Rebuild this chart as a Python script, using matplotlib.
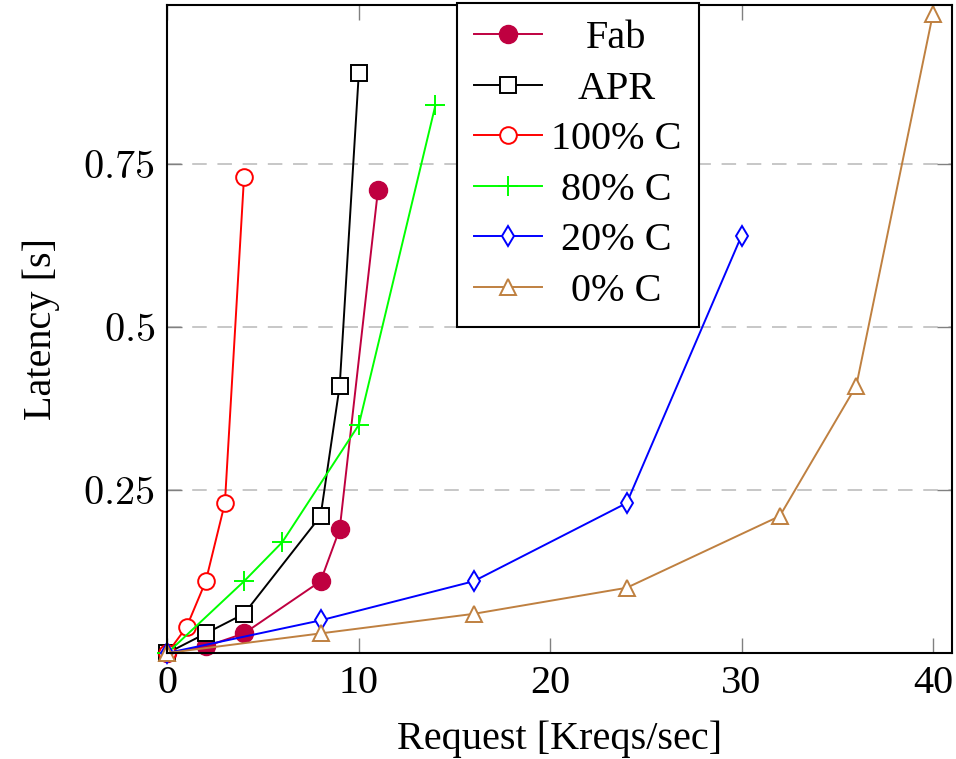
import matplotlib
matplotlib.use('Agg')
import matplotlib.pyplot as plt
import matplotlib.transforms as mtransforms

plt.rcParams['font.family'] = ['Liberation Serif', 'DejaVu Serif']
plt.rcParams['mathtext.fontset'] = 'cm'
plt.rcParams['font.size'] = 29

# data
series_names = ['Fab', 'APR', '100% C', '80% C', '20% C', '0% C']
fab_x = [0, 2, 4, 8, 9, 11]
fab_y = [0, 0.01, 0.03, 0.11, 0.19, 0.71]
apr_x = [0, 2, 4, 8, 9, 10]
apr_y = [0, 0.03, 0.06, 0.21, 0.41, 0.89]
c100_x = [0, 1, 2, 3, 4]
c100_y = [0, 0.04, 0.11, 0.23, 0.73]
c80_x = [0, 4, 6, 10, 14]
c80_y = [0, 0.11, 0.17, 0.35, 0.84]
c20_x = [0, 8, 16, 24, 30]
c20_y = [0, 0.05, 0.11, 0.23, 0.64]
c0_x = [0, 8, 16, 24, 32, 36, 40]
c0_y = [0, 0.03, 0.06, 0.10, 0.21, 0.41, 0.98]
x_ticks = [0, 10, 20, 30, 40]
y_ticks = [0.25, 0.5, 0.75]
y_tick_labels = ['0.25', '0.5', '0.75']

fig = plt.figure(figsize=(9.56, 7.59), dpi=100)
ax = fig.add_axes([0.1752, 0.1397, 0.8206, 0.8537])

lw = 1.4
mew = 1.4
ax.plot(fab_x, fab_y, color='#bf0040', marker='o', ms=13, mfc='#bf0040',
        mec='#bf0040', lw=lw, clip_on=False, label=series_names[0])
ax.plot(apr_x, apr_y, color='black', marker='s', ms=12, mfc='white',
        mec='black', mew=mew, lw=lw, clip_on=False, label=series_names[1])
ax.plot(c100_x, c100_y, color='#ff0000', marker='o', ms=12, mfc='white',
        mec='#ff0000', mew=mew, lw=lw, clip_on=False, label=series_names[2])
ax.plot(c80_x, c80_y, color='#00ff00', marker='+', ms=15, mew=mew,
        lw=lw, clip_on=False, label=series_names[3])
ax.plot(c20_x, c20_y, color='#0000ff', marker='d', ms=10, mfc='white',
        mec='#0000ff', mew=mew, lw=lw, clip_on=False, label=series_names[4])
ax.plot(c0_x, c0_y, color='#bf8040', marker='^', ms=11, mfc='white',
        mec='#bf8040', mew=mew, lw=lw, clip_on=False, label=series_names[5])

ax.set_xlim(0, 41)
ax.set_ylim(0, 0.994)
ax.set_xticks(x_ticks)
ax.set_yticks(y_ticks)
ax.set_yticklabels(['$' + s + '$' for s in y_tick_labels])
ax.tick_params(direction='in', length=11, width=1, color='#808080',
               top=True, right=True, labelsize=29, pad=9)
ax.yaxis.grid(True, color='#b8b8b8', linestyle=(0, (9.5, 7)), lw=1.1)
ax.set_axisbelow(True)
for sp in ax.spines.values():
    sp.set_linewidth(1.5)

ax.set_xlabel('Request [Kreqs/sec]', labelpad=13)
ax.set_ylabel('Latency [s]', labelpad=17)

leg = ax.legend(loc='upper left', bbox_to_anchor=(0.369, 1.003),
                borderaxespad=0, numpoints=1, handlelength=1.7,
                handletextpad=0.22, borderpad=0.42, labelspacing=0.33,
                fancybox=False, framealpha=1, edgecolor='black')
leg.get_frame().set_linewidth(1.5)

# centre the legend texts in their column
fig.canvas.draw()
r = fig.canvas.get_renderer()
texts = leg.get_texts()
widths = [t.get_window_extent(r).width for t in texts]
wmax = max(widths)
for t, w in zip(texts, widths):
    t.set_transform(t.get_transform() +
                    mtransforms.Affine2D().translate((wmax - w) / 2, 0))

fig.savefig('out.png', dpi=100)
